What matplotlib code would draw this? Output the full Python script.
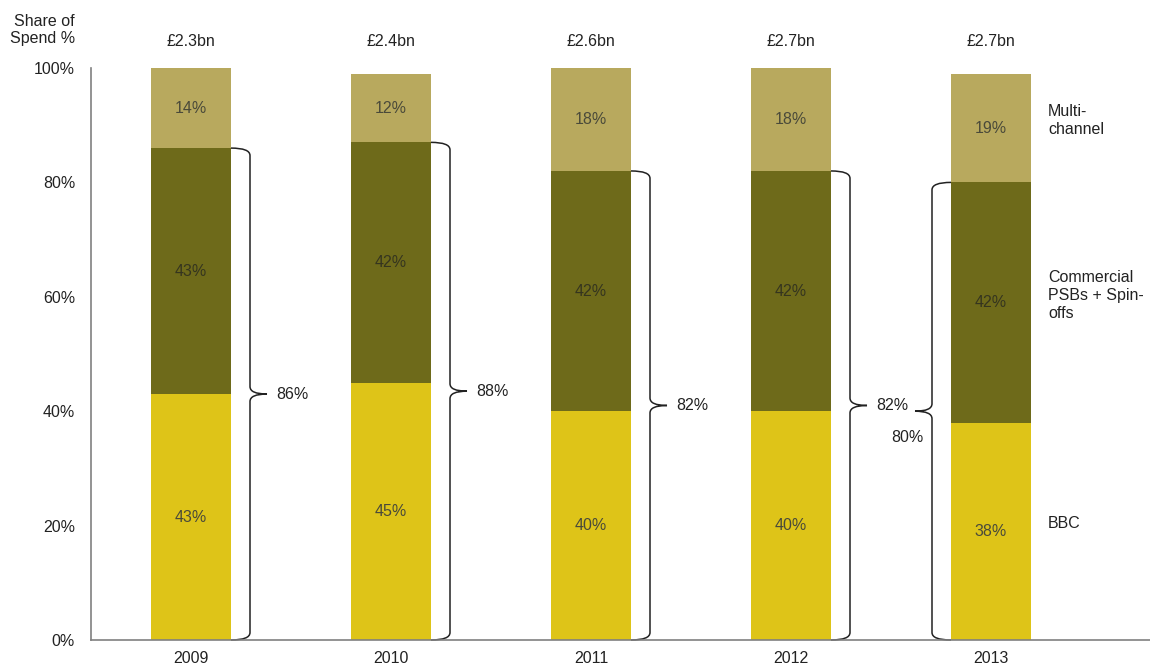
import matplotlib.pyplot as plt
from matplotlib.path import Path
from matplotlib.patches import PathPatch

plt.rcParams['font.family'] = ['Liberation Sans', 'DejaVu Sans']

years = ['2009', '2010', '2011', '2012', '2013']
spend = ['£2.3bn', '£2.4bn', '£2.6bn', '£2.7bn', '£2.7bn']
bbc = [43, 45, 40, 40, 38]
commercial = [43, 42, 42, 42, 42]
multichannel = [14, 12, 18, 18, 19]
brace_labels = ['86%', '88%', '82%', '82%', '80%']
series_names = ['BBC', 'Commercial\nPSBs + Spin-\noffs', 'Multi-\nchannel']

c_bbc = '#dec418'
c_com = '#6e6a1a'
c_multi = '#b8a95e'
fs = 11.5


def draw_brace(ax, xe, y0, y1, side, label):
    # side = +1 brace on the right of the bar, -1 on the left
    xs = xe + side * 0.095
    xt = xs + side * 0.085
    ry = 1.3
    ym = (y0 + y1) / 2
    verts = [
        (xe, y1), (xs, y1), (xs, y1 - ry),
        (xs, ym + ry), (xs, ym), (xt, ym),
        (xs, ym), (xs, ym - ry),
        (xs, y0 + ry), (xs, y0), (xe, y0),
    ]
    codes = [
        Path.MOVETO, Path.CURVE3, Path.CURVE3,
        Path.LINETO, Path.CURVE3, Path.CURVE3,
        Path.CURVE3, Path.CURVE3,
        Path.LINETO, Path.CURVE3, Path.CURVE3,
    ]
    ax.add_patch(PathPatch(Path(verts, codes), fill=False, lw=1.1,
                           ec='#222222', clip_on=False))
    if side > 0:
        ax.text(xe + 0.225, ym, label, ha='left', va='center',
                fontsize=fs, color='#222222')
    else:
        ax.text(xe - 0.135, ym - 4.6, label, ha='right', va='center',
                fontsize=fs, color='#222222')


fig = plt.figure(figsize=(11.5, 6.68), dpi=100)
ax = fig.add_axes([91 / 1150, 28 / 668, 1 - 91 / 1150, 572 / 668])

x = list(range(len(years)))
w = 0.4
bottoms2 = [a + b for a, b in zip(bbc, commercial)]
ax.bar(x, bbc, w, color=c_bbc)
ax.bar(x, commercial, w, bottom=bbc, color=c_com)
ax.bar(x, multichannel, w, bottom=bottoms2, color=c_multi)

for i in x:
    ax.text(i, bbc[i] / 2, f'{bbc[i]}%', ha='center', va='center',
            fontsize=fs, color='#4a4a3a')
    ax.text(i, bbc[i] + commercial[i] / 2, f'{commercial[i]}%', ha='center',
            va='center', fontsize=fs, color='#35351f')
    ax.text(i, bottoms2[i] + multichannel[i] / 2, f'{multichannel[i]}%',
            ha='center', va='center', fontsize=fs, color='#4a4a3a')
    ax.text(i, 104.6, spend[i], ha='center', va='center', fontsize=fs,
            color='#222222', clip_on=False)
    if i < len(years) - 1:
        draw_brace(ax, i + w / 2, 0, bottoms2[i], 1, brace_labels[i])
    else:
        draw_brace(ax, i - w / 2, 0, bottoms2[i], -1, brace_labels[i])

# series names beside the last bar
last = len(years) - 1
mids = [bbc[last] / 2, bbc[last] + commercial[last] / 2,
        bottoms2[last] + multichannel[last] / 2]
for name, m in zip(series_names, mids):
    ax.text(last + 0.285, m + 1.3, name, ha='left', va='center', fontsize=fs,
            color='#222222', linespacing=1.25)

ax.set_xlim(-0.5, (1150 - 91) / 200 - 0.5)
ax.set_ylim(0, 100)
ax.set_yticks([0, 20, 40, 60, 80, 100])
ax.set_yticklabels(['0%', '20%', '40%', '60%', '80%', '100%'])
ax.set_xticks(x)
ax.set_xticklabels(years)
ax.tick_params(axis='both', length=0, labelsize=fs, colors='#222222')
ax.tick_params(axis='y', pad=11.5)
ax.tick_params(axis='x', pad=8)
for s in ['top', 'right']:
    ax.spines[s].set_visible(False)
for s in ['left', 'bottom']:
    ax.spines[s].set_color('#808080')
    ax.spines[s].set_linewidth(1.2)

fig.text(75 / 1150, 1 - 30 / 668, 'Share of\nSpend %', ha='right', va='center',
         fontsize=fs, color='#222222', multialignment='right',
         linespacing=1.25)

fig.savefig('out.png', dpi=100)
